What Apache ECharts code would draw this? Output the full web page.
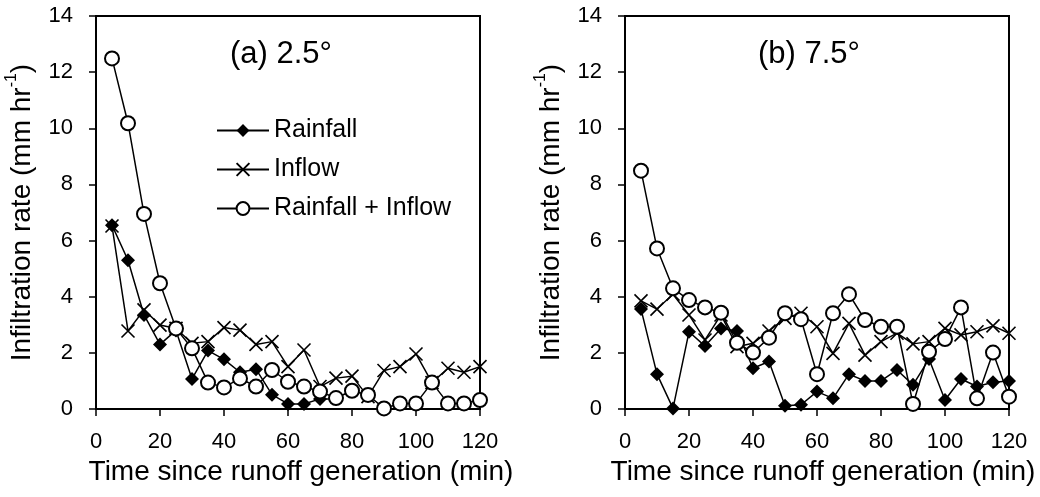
<!DOCTYPE html>
<html>
<head>
<meta charset="utf-8">
<script src="https://cdn.jsdelivr.net/npm/echarts@6/dist/echarts.min.js"></script>
<style>html,body{margin:0;padding:0;background:#fff}#c{width:1040px;height:497px}</style>
</head>
<body>
<div id="c"></div>
<script>
// time (min)
const timeAll = [5,10,15,20,25,30,35,40,45,50,55,60,65,70,75,80,85,90,95,100,105,110,115,120];
const timeRainA = [5,10,15,20,25,30,35,40,45,50,55,60,65,70,75];
// (a) 2.5 degrees
const rainA = [6.55,5.3,3.35,2.3,2.8,1.07,2.08,1.77,1.31,1.42,0.51,0.18,0.18,0.36,0.36];
const inflowA = [6.52,2.78,3.53,2.99,2.87,2.34,2.4,2.9,2.81,2.3,2.4,1.51,2.1,0.8,1.1,1.17,0.44,1.37,1.51,1.96,0.94,1.45,1.31,1.51];
const bothA = [12.49,10.18,6.95,4.48,2.87,2.16,0.94,0.77,1.09,0.8,1.39,0.97,0.8,0.62,0.39,0.65,0.5,0.02,0.2,0.2,0.94,0.2,0.2,0.32];
// (b) 7.5 degrees
const rainB = [3.56,1.24,0.02,2.75,2.24,2.87,2.78,1.45,1.69,0.12,0.15,0.62,0.38,1.24,1.0,1.0,1.39,0.86,1.78,0.32,1.07,0.8,0.95,1.0];
const inflowB = [3.85,3.56,4.09,3.35,2.46,3.35,2.22,2.34,2.78,3.23,3.41,2.93,1.98,3.05,1.92,2.4,2.7,2.32,2.4,2.87,2.64,2.75,2.96,2.7];
const bothB = [8.49,5.72,4.3,3.88,3.62,3.43,2.36,2.01,2.54,3.41,3.2,1.24,3.41,4.09,3.17,2.93,2.93,0.18,2.04,2.49,3.62,0.38,2.01,0.44];

const seriesNames = ['Rainfall','Inflow','Rainfall + Inflow'];
const panelTitles = ['(a) 2.5°','(b) 7.5°'];
const xTitle = 'Time since runoff generation (min)';

const FONT = 'Liberation Sans, Arial, sans-serif';
const pair = (xs, ys) => ys.map((v,i)=>[xs[i], v]);

const crossPath = 'path://M0,0L10,10M10,0L0,10';

function makeSeries(idx, rain, rainT, inflow, both) {
  const base = { type:'line', xAxisIndex:idx, yAxisIndex:idx, lineStyle:{color:'#000', width:1.5}, animation:false, z:2 };
  return [
    Object.assign({}, base, { name:seriesNames[0], data:pair(rainT, rain), symbol:'diamond', symbolSize:14,
      itemStyle:{color:'#000', borderColor:'#000', borderWidth:0} }),
    Object.assign({}, base, { name:seriesNames[1], data:pair(timeAll, inflow), symbol:crossPath, symbolSize:13,
      itemStyle:{color:'none', borderColor:'#000', borderWidth:1.6} }),
    Object.assign({}, base, { name:seriesNames[2], data:pair(timeAll, both), symbol:'emptyCircle', symbolSize:14,
      itemStyle:{color:'#000', borderColor:'#000', borderWidth:1.5} })
  ];
}

function xAx(idx, shift){
  return { type:'value', gridIndex:idx, min:0, max:120, interval:20,
    name:xTitle, nameLocation:'middle', nameGap:44,
    nameTextStyle:{fontFamily:FONT, fontSize:28, color:'#000', padding:[0,0,0,shift]},
    axisLine:{show:true, onZero:false, lineStyle:{color:'#000', width:2}},
    axisTick:{show:true, inside:false, length:7, lineStyle:{color:'#000', width:1.5}},
    axisLabel:{fontFamily:FONT, fontSize:22, color:'#000', margin:22},
    splitLine:{show:false} };
}
function yAx(idx){
  return { type:'value', gridIndex:idx, min:0, max:14, interval:2,
    name:'{a|Infiltration rate (mm hr}{b|-1}{a|)}', nameLocation:'middle', nameGap:60, nameRotate:90,
    nameTextStyle:{fontFamily:FONT, color:'#000',
      rich:{ a:{fontFamily:FONT, fontSize:28, color:'#000', lineHeight:32, verticalAlign:'bottom'},
             b:{fontFamily:FONT, fontSize:16, color:'#000', lineHeight:32, verticalAlign:'top', padding:[0,0,12,0]} } },
    axisLine:{show:true, lineStyle:{color:'#000', width:2}},
    axisTick:{show:true, inside:false, length:7, lineStyle:{color:'#000', width:1.5}},
    axisLabel:{fontFamily:FONT, fontSize:22, color:'#000', margin:23},
    splitLine:{show:false} };
}

const chart = echarts.init(document.getElementById('c'), null, {renderer:'canvas'});
chart.setOption({
  backgroundColor:'#fff',
  animation:false,
  title:[
    {text:panelTitles[0], left:230, top:39, padding:0, textStyle:{fontFamily:FONT, fontSize:31, fontWeight:'normal', color:'#000'}},
    {text:panelTitles[1], left:758, top:39, padding:0, textStyle:{fontFamily:FONT, fontSize:31, fontWeight:'normal', color:'#000'}}
  ],
  legend:{ data:seriesNames, orient:'vertical', left:216, top:118, padding:0,
    itemWidth:52, itemHeight:16, itemGap:14,
    textStyle:{fontFamily:FONT, fontSize:25, color:'#000', lineHeight:25},
    selectedMode:false },
  grid:[
    {left:96, top:16, width:384, height:393, show:true, borderColor:'#000', borderWidth:2, backgroundColor:'transparent'},
    {left:625, top:16, width:384, height:393, show:true, borderColor:'#000', borderWidth:2, backgroundColor:'transparent'}
  ],
  xAxis:[xAx(0, 26), xAx(1, 12)],
  yAxis:[yAx(0), yAx(1)],
  series:[].concat(makeSeries(0, rainA, timeRainA, inflowA, bothA), makeSeries(1, rainB, timeAll, inflowB, bothB))
});
</script>
</body>
</html>
